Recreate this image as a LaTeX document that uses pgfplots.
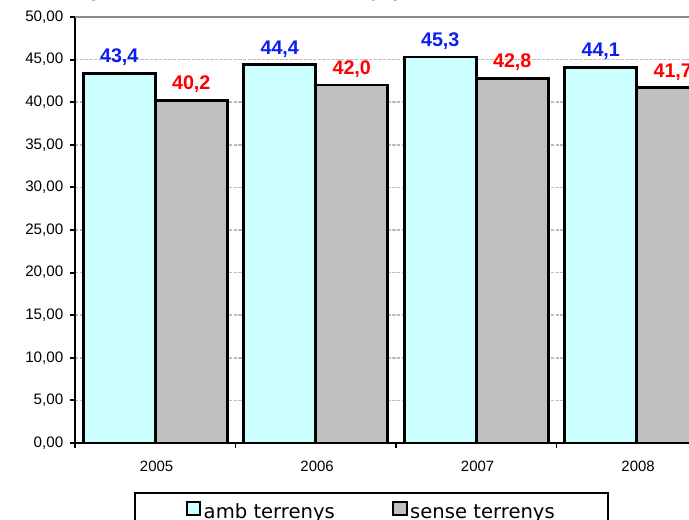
\documentclass[border=0pt]{standalone}
\usepackage{pgfplots}
\pgfplotsset{compat=1.18}
\usepackage{fontspec}
\setmainfont{Liberation Sans}
\newfontfamily\legfont{DejaVu Sans}
\definecolor{cyanbar}{HTML}{CCFFFF}
\definecolor{graybar}{HTML}{C0C0C0}
\definecolor{gridgray}{HTML}{BDBDBD}
\definecolor{topgray}{HTML}{8C8C8C}
\definecolor{lblblue}{HTML}{0A1EF0}
\definecolor{lblred}{HTML}{FF0000}
\begin{document}
\begin{tikzpicture}
\useasboundingbox (0pt,0pt) rectangle (516.75pt,389.25pt);
\clip (0pt,0pt) rectangle (516.75pt,389.25pt);
\node[anchor=base west, font=\fontsize{15.5}{18}\selectfont\bfseries, inner sep=0pt] at (66pt,391.5pt) {(euros/m² amb i sense terrenys)};
\begin{axis}[
  at={(56.25pt,57pt)}, anchor=south west,
  scale only axis, width=481.5pt, height=319.5pt,
  xmin=0, xmax=4, ymin=0, ymax=50,
  clip=false,
  ybar=0pt, bar width=54pt,
  axis lines*=left,
  axis line style={line width=1.8pt, black},
  tick align=outside,
  major tick length=3.75pt,
  tick style={line width=1.4pt, black},
  ytick={0,5,...,50},
  yticklabel={\pgfmathprintnumber[assume math mode=true, fixed, fixed zerofill, precision=2, use comma]{\tick}},
  yticklabel style={font=\fontsize{11.4}{13}\selectfont, xshift=-1.5pt},
  xtick={0,1,2,3,4},
  xticklabels={},
  extra x ticks={0.5,1.5,2.5,3.5},
  extra x tick labels={2005,2006,2007,2008},
  extra x tick style={major tick length=0pt, grid=none, xticklabel style={font=\fontsize{11.2}{13}\selectfont, yshift=-10pt, xshift=1pt}},
  ymajorgrids,
  major grid style={gridgray, line width=1.3pt, dash pattern=on 2.5pt off 1pt},
  legend style={at={(0.462,-0.115)}, anchor=north, legend columns=2, draw=black, line width=1.5pt,
    inner xsep=38pt, inner ysep=6pt,
    font=\legfont\fontsize{14.7}{17}\selectfont,
    /tikz/every even column/.append style={column sep=41pt}},
  legend image code/.code={\draw[#1, line width=1.5pt] (0pt,-2pt) rectangle (10pt,7.75pt);},
  nodes near coords={\pgfmathprintnumber[assume math mode=true, fixed, fixed zerofill, precision=1, use comma]{\pgfplotspointmeta}},
  nodes near coords style={anchor=base, yshift=8pt, font=\fontsize{14.8}{16}\selectfont\bfseries},
]
\addplot[fill=cyanbar, draw=black, line width=2pt, nodes near coords style={text=lblblue}]
  coordinates {(0.5,43.4) (1.5,44.4) (2.5,45.3) (3.5,44.1)};
\addlegendentry{amb terrenys}
\addplot[fill=graybar, draw=black, line width=2pt, nodes near coords style={text=lblred}]
  coordinates {(0.5,40.2) (1.5,42.0) (2.5,42.8) (3.5,41.7)};
\addlegendentry{sense terrenys}
\draw[topgray, line width=1.6pt] (axis cs:0,50) -- (axis cs:4,50);
\end{axis}
\end{tikzpicture}
\end{document}
